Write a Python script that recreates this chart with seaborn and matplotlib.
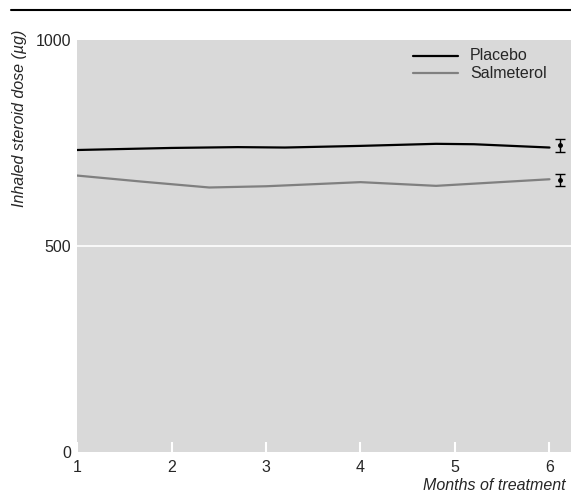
import numpy as np
import pandas as pd
import matplotlib
matplotlib.use("Agg")
import matplotlib.pyplot as plt
import seaborn as sns

# values
placebo_month = [1, 2, 2.7, 3.2, 4, 4.8, 5.2, 6]
placebo_dose = [733, 738, 740, 739, 743, 748, 747, 739]
salm_month = [1, 1.7, 2.4, 3, 4, 4.8, 6]
salm_dose = [671, 656, 642, 645, 655, 646, 662]

err_month = [6.11, 6.11]
err_dose = [744, 660]
err_size = [15, 14]

sns.set_style("white", {"axes.facecolor": "#d9d9d9"})
plt.rcParams['font.family'] = ['Liberation Sans Narrow', 'Liberation Sans', 'DejaVu Sans']

df = pd.concat([
    pd.DataFrame({"month": placebo_month, "dose": placebo_dose, "group": "Placebo"}),
    pd.DataFrame({"month": salm_month, "dose": salm_dose, "group": "Salmeterol"}),
])

fig = plt.figure(figsize=(5.71, 4.97), dpi=100)
ax = fig.add_axes([77/571, 1-452/497, 1-77/571, 412/497])

sns.lineplot(data=df, x="month", y="dose", hue="group",
             palette={"Placebo": "black", "Salmeterol": "#808080"},
             linewidth=1.6, ax=ax, legend=False)

for i in range(len(err_month)):
    ax.errorbar(err_month[i], err_dose[i], yerr=err_size[i], fmt="o", ms=2.5,
                color="black", capsize=3.5, elinewidth=1, capthick=1)

ax.axhline(500, color="white", lw=1.2, zorder=0.5)

ax.set_xlim(1, 1 + 494/94.5)
ax.set_ylim(0, 1000)
ax.set_xticks([1, 2, 3, 4, 5, 6])
ax.set_yticks([0, 500, 1000])
ax.tick_params(axis="x", bottom=True, direction="in", length=7, width=1.5, color="white",
               labelsize=11.5, pad=6)
ax.tick_params(axis="y", left=False, length=0, labelsize=11.5, pad=4)
for s in ax.spines.values():
    s.set_visible(False)
ax.set_xlabel("")
ax.set_ylabel("")

# legend drawn by hand
fig.lines.append(plt.Line2D([413/571, 458/571], [1-56/497, 1-56/497], color="black", lw=1.6, transform=fig.transFigure))
fig.lines.append(plt.Line2D([413/571, 458/571], [1-73/497, 1-73/497], color="#808080", lw=1.6, transform=fig.transFigure))
fig.text(470/571, 1-56/497, "Placebo", fontsize=11.5, va="center")
fig.text(470/571, 1-73/497, "Salmeterol", fontsize=11.5, va="center")

fig.text(20/571, 1-118/497, "Inhaled steroid dose (µg)", rotation=90, style="italic",
         fontsize=11.5, ha="center", va="center")
fig.text(566/571, 1-485/497, "Months of treatment", style="italic", fontsize=11.5,
         ha="right", va="center")

fig.lines.append(plt.Line2D([11/571, 1], [1-10/497, 1-10/497], color="black", lw=1.5,
                            transform=fig.transFigure))

fig.savefig("out.png", dpi=100)
